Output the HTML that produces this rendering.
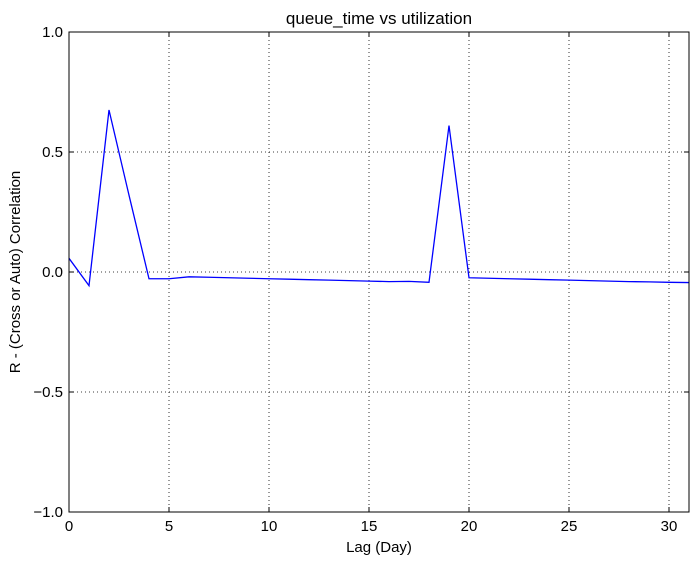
<!DOCTYPE html>
<html><head><meta charset="utf-8"><style>
body{margin:0;background:#fff;}
svg text{font-family:"Liberation Sans",Arial,sans-serif;fill:#000;}
</style></head><body>
<svg id="chart" width="698" height="564" xmlns="http://www.w3.org/2000/svg">
<rect width="698" height="564" fill="#fff"/>
<g id="grid"></g>
<g id="ticks"></g>
<path id="line" fill="none" stroke="#0000ff" stroke-width="1.3"/>
<rect x="69" y="32" width="620" height="480" fill="none" stroke="#000" stroke-width="1"/>
<text x="379" y="24" font-size="17" text-anchor="middle">queue_time vs utilization</text>
<text x="379" y="552" font-size="15" text-anchor="middle">Lag (Day)</text>
<text transform="translate(20,272) rotate(-90)" font-size="15" text-anchor="middle">R - (Cross or Auto) Correlation</text>
</svg>
<script>
const lags=[0,1,2,3,4,5,6,7,8,9,10,11,12,13,14,15,16,17,18,19,20,21,22,23,24,25,26,27,28,29,30,31];
const rValues=[0.057,-0.057,0.675,0.32,-0.028,-0.028,-0.02,-0.022,-0.024,-0.026,-0.028,-0.03,-0.032,-0.034,-0.036,-0.038,-0.04,-0.039,-0.043,0.61,-0.024,-0.026,-0.028,-0.03,-0.032,-0.034,-0.036,-0.038,-0.04,-0.041,-0.043,-0.044];
const xTicks=[0,5,10,15,20,25,30];
const yTicks=[-1.0,-0.5,0.0,0.5,1.0];
const yTickLabels=["\u22121.0","\u22120.5","0.0","0.5","1.0"];
const X0=69,X1=689,Y0=32,Y1=512,xMin=0,xMax=31,yMin=-1,yMax=1;
const sx=v=>X0+(v-xMin)/(xMax-xMin)*(X1-X0);
const sy=v=>Y1-(v-yMin)/(yMax-yMin)*(Y1-Y0);
const NS="http://www.w3.org/2000/svg";
const grid=document.getElementById('grid'),ticks=document.getElementById('ticks');
function mk(t,a,p){const e=document.createElementNS(NS,t);for(const k in a)e.setAttribute(k,a[k]);p.appendChild(e);return e;}
xTicks.forEach(v=>{const x=sx(v);
 const g=mk('line',{x1:x,x2:x,y1:Y0,y2:Y1,stroke:'#000','stroke-width':0.8,'stroke-dasharray':'1,3'},grid);
 
 
 mk('line',{x1:x,x2:x,y1:Y1,y2:Y1-5,stroke:'#000'},ticks);mk('line',{x1:x,x2:x,y1:Y0,y2:Y0+5,stroke:'#000'},ticks);
 const t=mk('text',{x:x,y:Y1+19,'font-size':15,'text-anchor':'middle'},ticks);t.textContent=v;
 
 
});
yTicks.forEach((v,i)=>{const y=sy(v);
 const g=mk('line',{x1:X0,x2:X1,y1:y,y2:y,stroke:'#000','stroke-width':0.8,'stroke-dasharray':'1,3'},grid);
 
 
 mk('line',{x1:X0,x2:X0+5,y1:y,y2:y,stroke:'#000'},ticks);mk('line',{x1:X1,x2:X1-5,y1:y,y2:y,stroke:'#000'},ticks);
 const t=mk('text',{x:X0-6,y:y+5,'font-size':15,'text-anchor':'end'},ticks);t.textContent=yTickLabels[i];
 
 
});
document.getElementById('line').setAttribute('d',lags.map((l,i)=>(i?'L':'M')+sx(l)+','+sy(rValues[i])).join(''));
</script>
</body></html>
